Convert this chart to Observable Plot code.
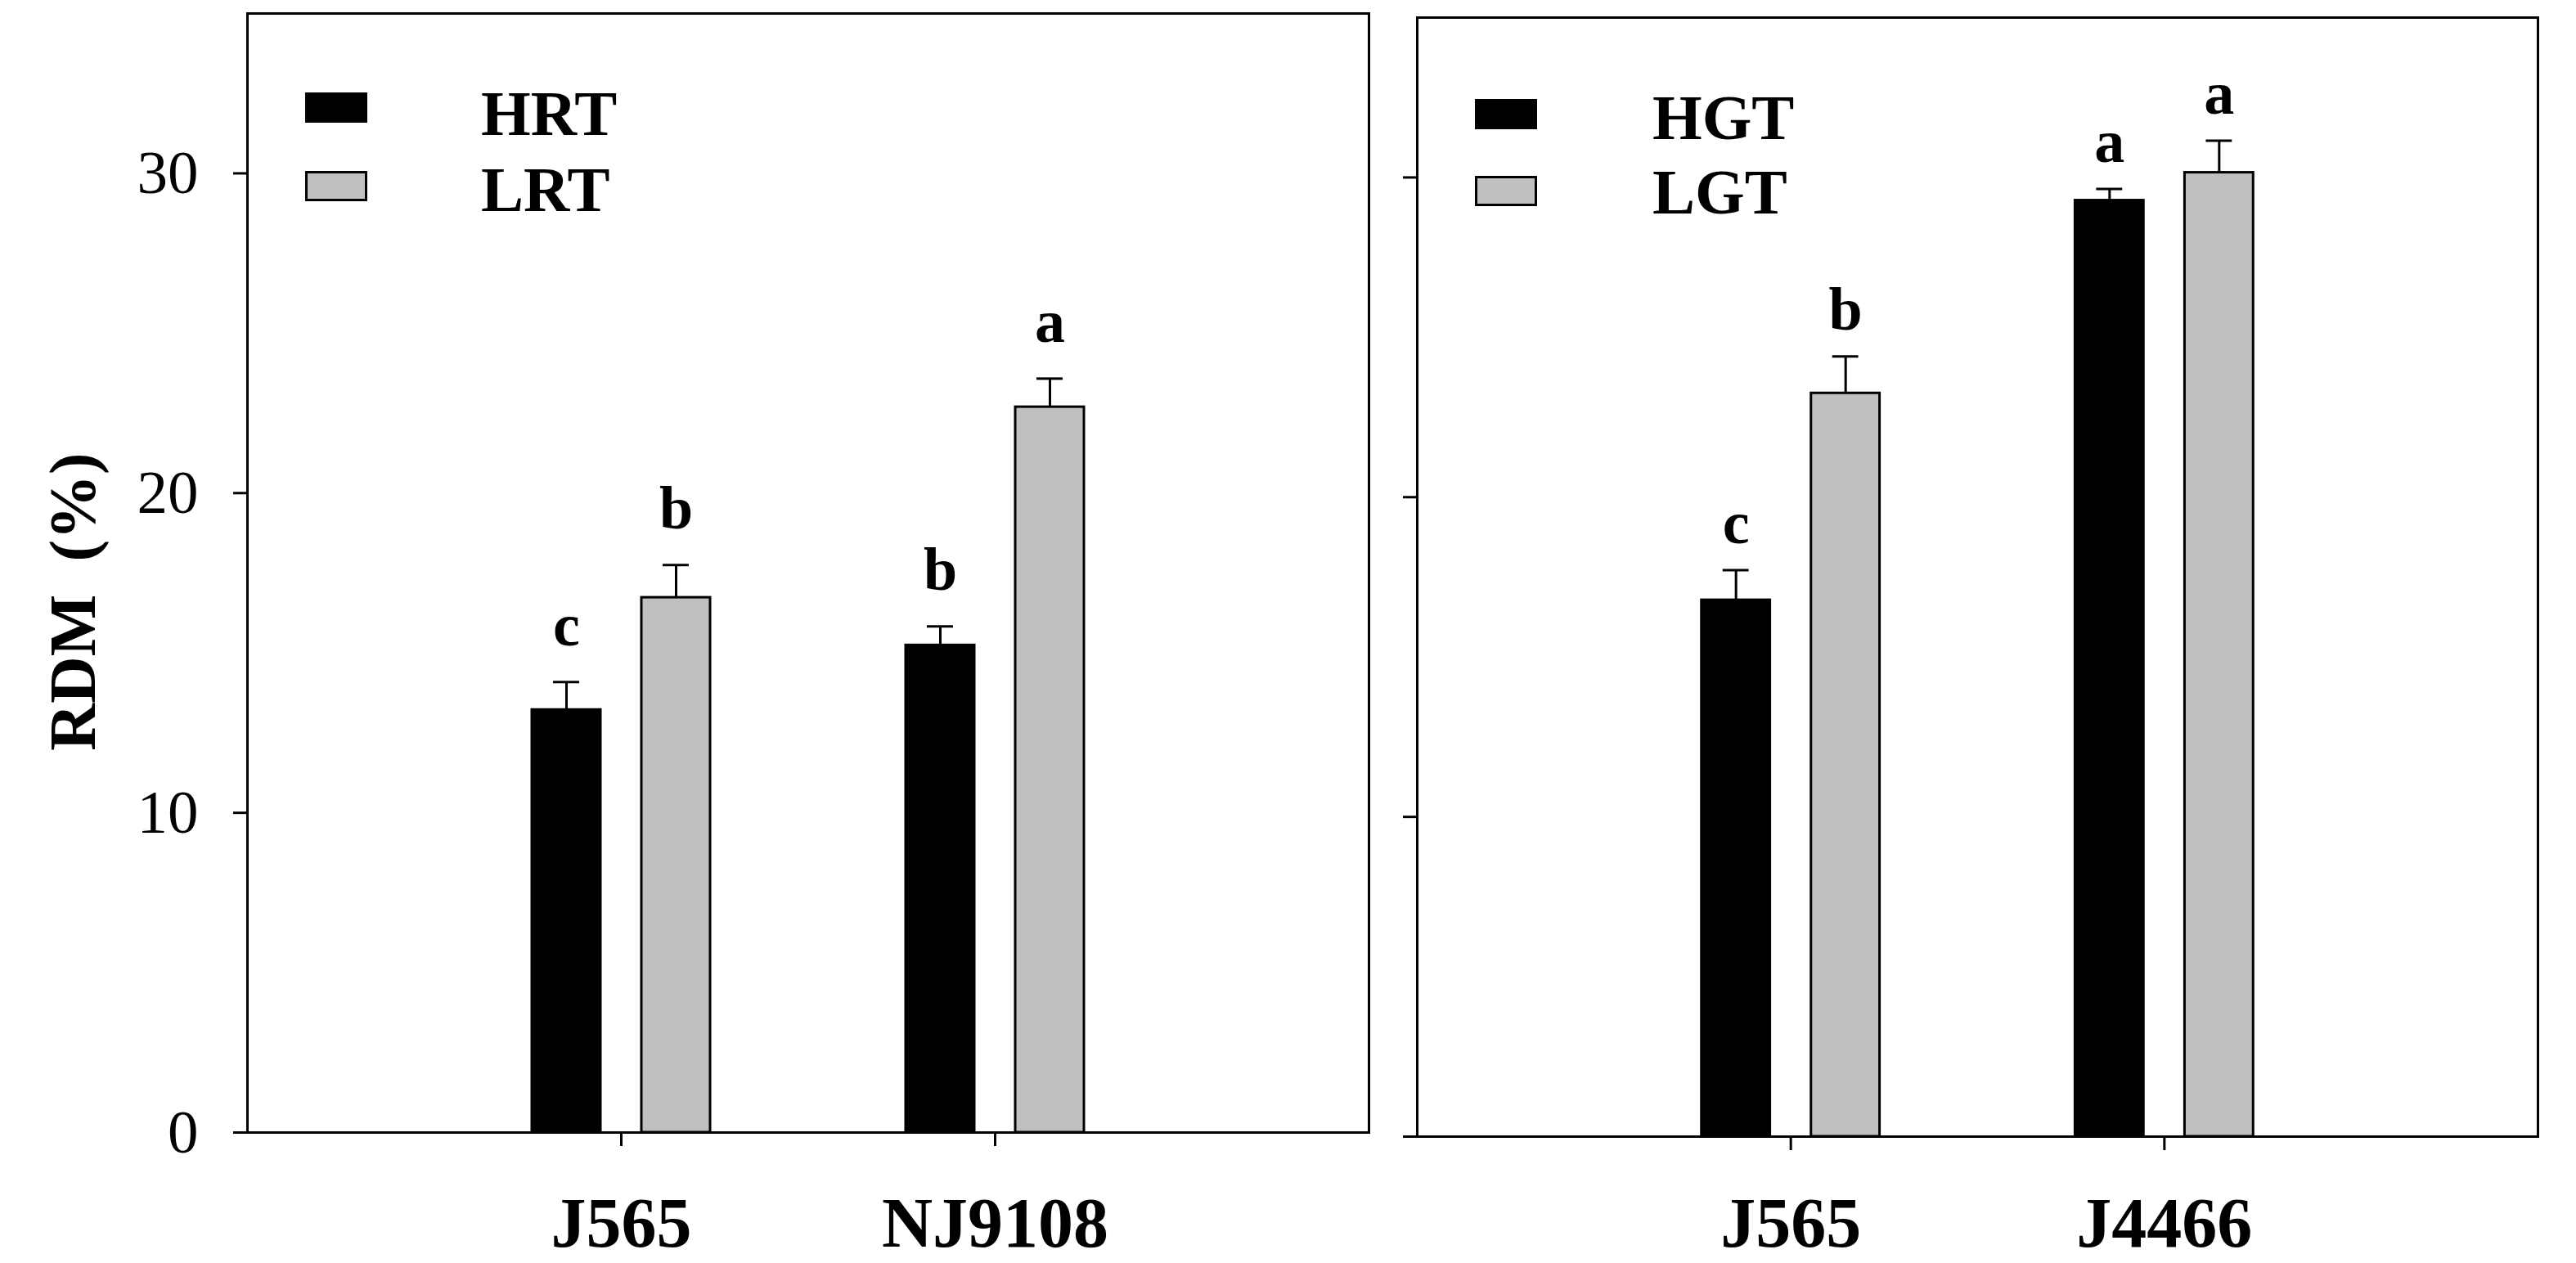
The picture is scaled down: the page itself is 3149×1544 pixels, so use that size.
<!DOCTYPE html>
<html>
<head>
<meta charset="utf-8">
<script src="https://cdn.jsdelivr.net/npm/d3@7"></script>
<script src="https://cdn.jsdelivr.net/npm/@observablehq/plot@0.6"></script>
<style>
  html, body { margin: 0; padding: 0; background: #fff; }
  #wrap { position: relative; width: 3149px; height: 1544px; background: #fff; overflow: hidden; }
  #wrap svg { position: absolute; top: 0; }
  .lg-sw { position: absolute; width: 70px; height: 31px; box-sizing: content-box; border: 3px solid #000; }
  .lg-tx { position: absolute; font-family: 'Liberation Serif', 'Times New Roman', serif; font-weight: bold; font-size: 78px; line-height: 1; color: #000; white-space: nowrap; }
</style>
</head>
<body>
<div id="wrap"></div>
<script>
// ---------- data ----------
const yTicks = [0, 10, 20, 30];
const yLabel = "RDM  (%)";

const leftGroups = ["J565", "NJ9108"];
const leftSeries = ["HRT", "LRT"];
const leftHRT = [13.22, 15.24];
const leftHRTerr = [0.87, 0.59];
const leftHRTletters = ["c", "b"];
const leftLRT = [16.73, 22.69];
const leftLRTerr = [1.02, 0.89];
const leftLRTletters = ["b", "a"];

const rightGroups = ["J565", "J4466"];
const rightSeries = ["HGT", "LGT"];
const rightHGT = [16.78, 29.28];
const rightHGTerr = [0.94, 0.36];
const rightHGTletters = ["c", "a"];
const rightLGT = [23.25, 30.15];
const rightLGTerr = [1.15, 1.0];
const rightLGTletters = ["b", "a"];

const seriesColors = ["#000000", "#c0c0c0"];

// ---------- helpers ----------
function rows(groups, series, values, errs, letters) {
  return groups.map((g, i) => ({group: g, series, value: values[i], err: errs[i], letter: letters[i]}));
}

const BAND = 221;      // px width of one group band
const BAR_IN = 135.5;  // inset on the far side of a bar
const BAR_NEAR = 1.5;  // inset on the near side
const OFF = 67;        // bar centre offset from group centre
const CAP_IN = 27.5, CAP_FAR = 161.5;

function panel({groups, rowsA, rowsB, width, marginLeft, marginRight, marginTop, marginBottom, showLabels, letterGap, xPad}) {
  const marks = [
    Plot.barY(rowsA, {x: "group", y: "value", fill: seriesColors[0], stroke: "#000", strokeWidth: 3, insetLeft: BAR_NEAR, insetRight: BAR_IN}),
    Plot.barY(rowsB, {x: "group", y: "value", fill: seriesColors[1], stroke: "#000", strokeWidth: 3, insetLeft: BAR_IN, insetRight: BAR_NEAR}),
    Plot.ruleX(rowsA, {x: "group", y1: "value", y2: d => d.value + d.err, dx: -OFF, strokeWidth: 3}),
    Plot.ruleX(rowsB, {x: "group", y1: "value", y2: d => d.value + d.err, dx: OFF, strokeWidth: 3}),
    Plot.tickY(rowsA, {x: "group", y: d => d.value + d.err, insetLeft: CAP_IN, insetRight: CAP_FAR, strokeWidth: 3}),
    Plot.tickY(rowsB, {x: "group", y: d => d.value + d.err, insetLeft: CAP_FAR, insetRight: CAP_IN, strokeWidth: 3}),
    Plot.text(rowsA, {x: "group", y: d => d.value + d.err, text: "letter", dx: -OFF, dy: -letterGap, lineAnchor: "bottom", fontSize: 74, fontWeight: "bold"}),
    Plot.text(rowsB, {x: "group", y: d => d.value + d.err, text: "letter", dx: OFF, dy: -letterGap, lineAnchor: "bottom", fontSize: 74, fontWeight: "bold"}),
    Plot.frame({strokeWidth: 3}),
    Plot.axisY({ticks: yTicks, tickSize: 17, tickPadding: 43, strokeWidth: 3, fontSize: 75,
      tickFormat: showLabels ? (d => String(d)) : (() => ""), label: null}),
    Plot.axisX({tickSize: 17, tickPadding: xPad, strokeWidth: 3, fontSize: 86, fontWeight: "bold", label: null})
  ];
  if (showLabels) {
    marks.push(Plot.text([yLabel], {text: d => d, frameAnchor: "left", rotate: -90, dx: -212, dy: 35, fontSize: 80, fontWeight: "bold", textAnchor: "middle", lineAnchor: "middle"}));
  }
  return Plot.plot({
    width, height: 1544, marginLeft, marginRight, marginTop, marginBottom,
    style: {fontFamily: "'Liberation Serif', 'Times New Roman', serif", color: "#000", background: "transparent", overflow: "visible"},
    x: {type: "band", domain: groups, paddingInner: 1 - BAND / 457, paddingOuter: (2 - BAND / 457) / 2, align: 0.5, round: false, axis: null},
    y: {domain: [0, 35], axis: null},
    marks
  });
}

const wrap = document.getElementById("wrap");

const left = panel({
  groups: leftGroups,
  rowsA: rows(leftGroups, leftSeries[0], leftHRT, leftHRTerr, leftHRTletters),
  rowsB: rows(leftGroups, leftSeries[1], leftLRT, leftLRTerr, leftLRTletters),
  width: 1700, marginLeft: 302, marginRight: 27, marginTop: 16, marginBottom: 160,
  showLabels: true, letterGap: 45, xPad: 61
});
left.style.left = "0px";
wrap.appendChild(left);

const right = panel({
  groups: rightGroups,
  rowsA: rows(rightGroups, rightSeries[0], rightHGT, rightHGTerr, rightHGTletters),
  rowsB: rows(rightGroups, rightSeries[1], rightLGT, rightLGTerr, rightLGTletters),
  width: 1449, marginLeft: 32, marginRight: 47, marginTop: 21, marginBottom: 155,
  showLabels: false, letterGap: 33, xPad: 56
});
right.style.left = "1700px";
wrap.appendChild(right);

// ---------- legends (inside each panel) ----------
function legend(names, swLeft, swTops, txLeft, txTops) {
  names.forEach((name, i) => {
    const sw = document.createElement("div");
    sw.className = "lg-sw";
    sw.style.left = swLeft + "px";
    sw.style.top = swTops[i] + "px";
    sw.style.background = seriesColors[i];
    wrap.appendChild(sw);
    const tx = document.createElement("div");
    tx.className = "lg-tx";
    tx.style.left = txLeft + "px";
    tx.style.top = txTops[i] + "px";
    tx.textContent = name;
    wrap.appendChild(tx);
  });
}
legend(leftSeries, 373, [113, 209], 588, [100, 193]);
legend(rightSeries, 1803, [121, 215], 2020, [105, 196]);
</script>
</body>
</html>
